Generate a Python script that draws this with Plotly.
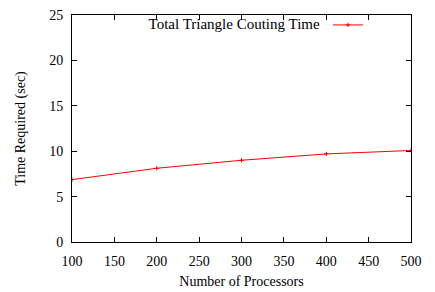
import plotly.graph_objects as go

processors = [100, 200, 300, 400, 500]
times = [6.87, 8.12, 9.0, 9.7, 10.08]
series_name = "Total Triangle Couting Time"

font = "Liberation Serif, Times New Roman, serif"

fig = go.Figure()
fig.add_trace(go.Scatter(
    x=processors, y=times, mode="lines+markers", name="",
    line=dict(color="#ff0000", width=1),
    marker=dict(symbol="cross-thin", size=3, line=dict(color="#ff0000", width=1), color="#ff0000"),
    showlegend=True,
))

axis_common = dict(
    showline=True, linecolor="black", linewidth=1, mirror="ticks",
    ticks="inside", ticklen=5, tickcolor="black", showgrid=False, zeroline=False,
    tickfont=dict(family=font, size=14, color="black"), automargin=False,
)

fig.update_layout(
    width=435, height=292,
    margin=dict(l=72, r=24, t=9, b=50),
    paper_bgcolor="white", plot_bgcolor="white",
    font=dict(family=font, size=14, color="black"),
    xaxis=dict(range=[100, 500], tickvals=[100, 150, 200, 250, 300, 350, 400, 450, 500],
               ticklabelstandoff=6,
               title=dict(text="Number of Processors", font=dict(family=font, size=14), standoff=8),
               **axis_common),
    yaxis=dict(range=[0, 25], tickvals=[0, 5, 10, 15, 20, 25],
               ticklabelstandoff=5,
               title=dict(text="Time Required (sec)", font=dict(family=font, size=14), standoff=20),
               **axis_common),
    legend=dict(x=0.22, y=1.025, xanchor="left", yanchor="top", bgcolor="rgba(0,0,0,0)",
                title=dict(text=series_name, side="left", font=dict(family=font, size=15)),
                font=dict(family=font, size=14), itemwidth=30),
)

fig.write_html("out.html", config={"displayModeBar": False},
               post_script="document.body.style.margin='0';document.body.style.padding='0';")
